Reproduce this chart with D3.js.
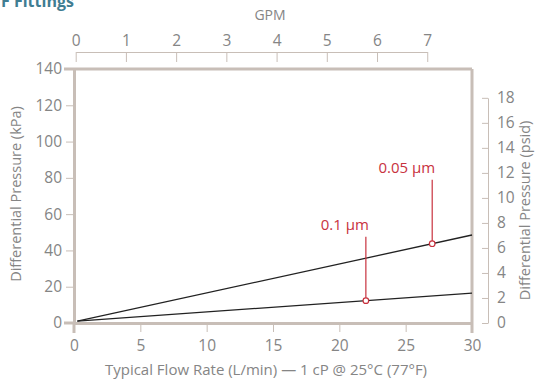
<!DOCTYPE html>
<html><head><meta charset="utf-8">
<script src="https://cdn.jsdelivr.net/npm/d3@7"></script>
<style>body{margin:0;background:#fff}svg{display:block}text{font-family:"Open Sans",Lato,sans-serif}</style>
</head><body><svg id="c" width="539" height="381"></svg>
<script>
const flowTicks = [0, 5, 10, 15, 20, 25, 30];
const gpmTicks = [0, 1, 2, 3, 4, 5, 6, 7];
const kpaTicks = [0, 20, 40, 60, 80, 100, 120, 140];
const psidTicks = [0, 2, 4, 6, 8, 10, 12, 14, 16, 18];
const seriesNames = ["0.05 µm", "0.1 µm"];
const seriesFlow = [[0.25, 30], [0.25, 30]];
const seriesKpa = [[1, 48.5], [1, 16.5]];
const markerFlow = [27, 22];
const labelKpa = [79, 47.5];

const svg = d3.select("#c");
const L = 74, R = 472, T = 69, B = 323;
const frameColor = "#c8beb7", txt = "#858585", red = "#c8323e";
const x = d3.scaleLinear().domain([0, 30]).range([L, R]);
const y = d3.scaleLinear().domain([0, 140]).range([B, T]);
const gpm = d3.scaleLinear().domain([0, 7]).range([x(0) + 1.7, x(7 * 3.78541) + 1.7]);
const psi = d3.scaleLinear().domain([0, 18]).range([y(0), y(18 * 6.89476)]);
const fmt = d3.format("d");

// title (cut off at top edge as in the reference)
svg.append("text").attr("x", 1).attr("y", 7).attr("fill", "#3f7d92")
  .attr("font-size", 16).attr("font-weight", "bold").text("F Fittings");

// GPM axis
const gA = svg.append("g").attr("transform", "translate(0,52)")
  .call(d3.axisBottom(gpm).tickValues(gpmTicks).tickFormat(fmt).tickSize(10).tickSizeOuter(0).tickPadding(0));
gA.select(".domain").attr("stroke", frameColor);
gA.selectAll(".tick line").attr("stroke", frameColor);
gA.selectAll(".tick text").attr("y", -6).attr("dy", 0).attr("fill", txt).attr("font-size", 15.5);
svg.append("text").attr("x", 270).attr("y", 20).attr("text-anchor", "middle")
  .attr("fill", txt).attr("font-size", 14).text("GPM");

// frame top & right
svg.append("line").attr("x1", 64).attr("x2", R).attr("y1", T).attr("y2", T)
  .attr("stroke", frameColor).attr("stroke-width", 3);
svg.append("line").attr("x1", R).attr("x2", R).attr("y1", T).attr("y2", 333)
  .attr("stroke", frameColor).attr("stroke-width", 3);

// left kPa axis
const yA = svg.append("g").attr("transform", `translate(${L},0)`)
  .call(d3.axisLeft(y).tickValues(kpaTicks).tickFormat(fmt).tickSize(8).tickSizeOuter(0).tickPadding(4));
yA.select(".domain").attr("stroke", frameColor).attr("stroke-width", 3);
yA.selectAll(".tick line").attr("stroke", frameColor).attr("stroke-width", 1);
yA.selectAll(".tick text").attr("fill", txt).attr("font-size", 15.5);
svg.append("line").attr("x1", L).attr("x2", L).attr("y1", B).attr("y2", 333)
  .attr("stroke", frameColor).attr("stroke-width", 3);
svg.append("text").attr("transform", `translate(21,${(T + B) / 2 - 2}) rotate(-90)`)
  .attr("text-anchor", "middle").attr("fill", txt).attr("font-size", 14.5)
  .text("Differential Pressure (kPa)");

// bottom axis
const xA = svg.append("g").attr("transform", `translate(0,${B})`)
  .call(d3.axisBottom(x).tickValues(flowTicks).tickFormat(fmt).tickSize(9).tickSizeOuter(0).tickPadding(8));
xA.select(".domain").attr("stroke", frameColor).attr("stroke-width", 3);
xA.selectAll(".tick line").attr("stroke", frameColor).attr("stroke-width", 1);
xA.selectAll(".tick text").attr("fill", txt).attr("font-size", 15.5);
svg.append("line").attr("x1", 64).attr("x2", L).attr("y1", B).attr("y2", B)
  .attr("stroke", frameColor).attr("stroke-width", 3);
svg.append("text").attr("x", 266).attr("y", 375).attr("text-anchor", "middle")
  .attr("fill", txt).attr("font-size", 15).text("Typical Flow Rate (L/min) — 1 cP @ 25°C (77°F)");

// right psid axis
const pA = svg.append("g").attr("transform", "translate(488,0)")
  .call(d3.axisRight(psi).tickValues(psidTicks).tickFormat(fmt).tickSize(-6).tickSizeOuter(0).tickPadding(9));
pA.select(".domain").attr("stroke", frameColor);
pA.selectAll(".tick line").attr("stroke", frameColor);
pA.selectAll(".tick text").attr("fill", txt).attr("font-size", 15.5);
svg.append("text").attr("transform", `translate(530,${psi(9)}) rotate(-90)`)
  .attr("text-anchor", "middle").attr("fill", txt).attr("font-size", 14.5)
  .text("Differential Pressure (psid)");

// series
const line = d3.line().x(d => x(d[0])).y(d => y(d[1]));
seriesFlow.forEach((fs, i) => {
  svg.append("path").datum(fs.map((f, j) => [f, seriesKpa[i][j]]))
    .attr("d", line).attr("fill", "none").attr("stroke", "#222").attr("stroke-width", 1.3);
});

// callouts
seriesNames.forEach((name, i) => {
  const f = markerFlow[i];
  const fs = seriesFlow[i], ks = seriesKpa[i];
  const k = ks[0] + (ks[1] - ks[0]) * (f - fs[0]) / (fs[1] - fs[0]);
  svg.append("line").attr("x1", x(f)).attr("x2", x(f)).attr("y1", y(labelKpa[i]))
    .attr("y2", y(k)).attr("stroke", red).attr("stroke-width", 1.2);
  svg.append("circle").attr("cx", x(f)).attr("cy", y(k)).attr("r", 2.8)
    .attr("fill", "#fff").attr("stroke", red).attr("stroke-width", 1.2);
  svg.append("text").attr("x", x(f) + 3).attr("y", y(labelKpa[i]) - 7)
    .attr("text-anchor", "end").attr("fill", red).attr("font-size", 15).text(name);
});
</script></body></html>
